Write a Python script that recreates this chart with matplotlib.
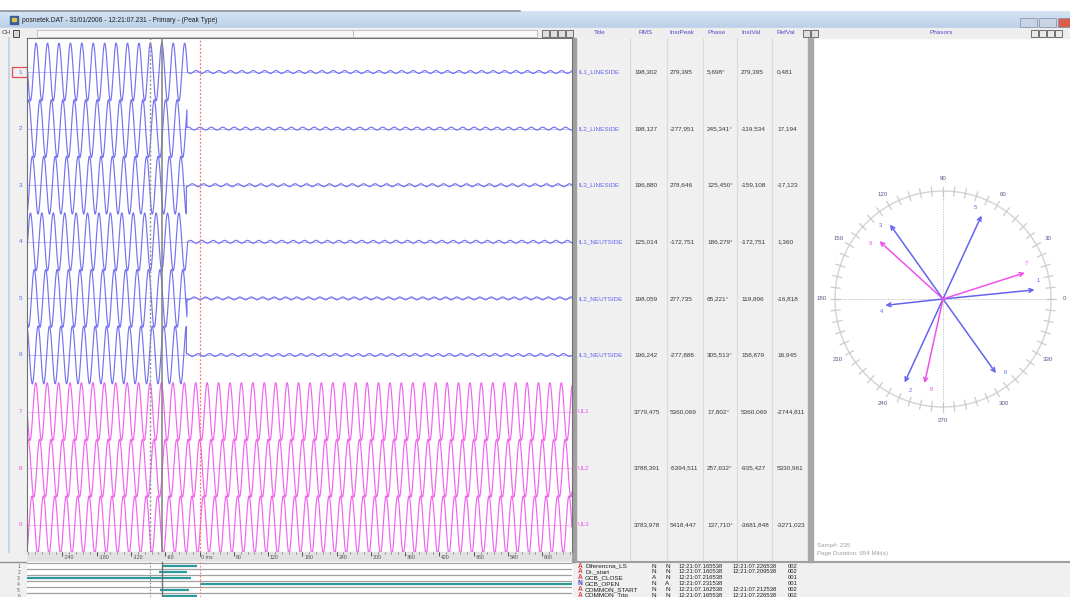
import numpy as np
import matplotlib.pyplot as plt
from matplotlib.patches import Rectangle
from matplotlib.colors import LinearSegmentedColormap

plt.rcParams['font.family'] = ['Liberation Sans', 'DejaVu Sans']

W, H = 1070, 597

# analog channels and the values shown at the cursor
titles = ['IL1_LINESIDE', 'IL2_LINESIDE', 'IL3_LINESIDE', 'IL1_NEUTSIDE', 'IL2_NEUTSIDE',
          'IL3_NEUTSIDE', 'UL1', 'UL2', 'UL3']
rms = [198.302, 198.127, 196.880, 125.014, 198.059, 196.242, 3779.475, 3788.391, 3783.978]
inst_peak = [279.395, -277.951, 278.646, -172.751, 277.735, -277.888, 5360.069, -5394.511, 5418.447]
phase = [5.698, 245.341, 125.450, 186.279, 65.221, 305.513, 17.802, 257.632, 137.710]
inst_val = [279.395, -119.534, -159.108, -172.751, 119.896, 158.879, 5360.069, -935.427, -3681.848]
ref_val = [0.481, 17.194, -17.123, 1.360, -16.818, 16.945, -2744.811, 5330.961, -3271.023]
is_current = [True, True, True, True, True, True, False, False, False]
# breaker interrupts the currents here (ms), voltages keep running
cutoff_ms = [-21, -22, -23, -21, -22, -23, None, None, None]
residual = 0.05

# time base
t_start, t_end = -302, 652
cursor_ms = -66
cursor2_ms = -86
freq = 50.0

# digital channels (start, end in ms; None = beyond page)
dig_names = ['Diferencna_LS', 'Dr._start', 'GCB_CLOSE', 'GCB_OPEN', 'COMMON_START', 'COMMON_Trip']
dig_start = [-66, -71, None, 0, -69, -66]
dig_end = [-5, -22, -15, None, -19, -5]
dig_type = ['A', 'A', 'A', 'N', 'A', 'A']
dig_s1 = ['N', 'N', 'A', 'N', 'N', 'N']
dig_s2 = ['N', 'N', 'N', 'A', 'N', 'N']
dig_t1 = ['12:21:07.165538', '12:21:07.160538', '12:21:07.216538', '12:21:07.231538',
          '12:21:07.162538', '12:21:07.165538']
dig_t2 = ['12:21:07.226538', '12:21:07.209538', '', '', '12:21:07.212538', '12:21:07.226538']
dig_code = ['002', '002', '001', '001', '002', '002']

ruler_ticks = [-240, -180, -120, -60, 0, 60, 120, 180, 240, 300, 360, 420, 480, 540, 600]

BLUE = '#6464f0'
MAG = '#f052ee'
FS = 4.6

fig = plt.figure(figsize=(W / 100, H / 100), dpi=100)
fig.patch.set_facecolor('white')


def px_axes(x0, y0, x1, y1, z=1):
    a = fig.add_axes([x0 / W, 1 - y1 / H, (x1 - x0) / W, (y1 - y0) / H])
    a.set_zorder(z)
    return a


# ---- background / window chrome ----
bg = px_axes(0, 0, W, H, z=0)
bg.set_xlim(0, W)
bg.set_ylim(H, 0)
bg.axis('off')

grad = np.linspace(0, 1, 50)[:, None] * np.ones((1, 200))
bg.imshow(grad, extent=(0, W, 28, 11), cmap=LinearSegmentedColormap.from_list(
    'tb', ['#d6e4f3', '#bad0e9']), aspect='auto', zorder=1)
bg.plot([0, 520], [11, 11], color='#8a8f98', lw=1.2, zorder=2)
bg.add_patch(Rectangle((10, 16), 8, 8, color='#3a5d9a', zorder=2))
bg.add_patch(Rectangle((12, 18), 4, 3, color='#e0c040', zorder=3))
bg.text(22, 20.5, 'posnetek.DAT - 31/01/2006 - 12:21:07.231 - Primary - (Peak Type)',
        fontsize=4.8, va='center', color='#202020', zorder=3)
for bx, bw, bc in [(1020, 17, '#c8d4e4'), (1039, 17, '#c8d4e4'), (1058, 12, '#d8604a')]:
    bg.add_patch(Rectangle((bx, 18), bw, 9, facecolor=bc, edgecolor='#8090a8', lw=0.5, zorder=3))

# toolbar / header row
bg.add_patch(Rectangle((0, 28), W, 10, color='#eeeeee', zorder=1))
bg.text(2, 33, 'CH', fontsize=4.6, va='center', color='#404040', zorder=3)
bg.add_patch(Rectangle((13, 29.5), 6, 7, facecolor='#d8d8d8', edgecolor='#303030', lw=0.6, zorder=3))
bg.add_patch(Rectangle((37, 29.5), 316, 7, facecolor='#f6f6f6', edgecolor='#b0b0b0', lw=0.5, zorder=2))
bg.add_patch(Rectangle((353, 29.5), 184, 7, facecolor='#f8f8f8', edgecolor='#b0b0b0', lw=0.5, zorder=2))
for bx in [542, 550, 558, 566]:
    bg.add_patch(Rectangle((bx, 29.5), 7, 7, facecolor='#e0e0e0', edgecolor='#404040', lw=0.5, zorder=3))
for lab, x in [('Title', 600), ('RMS', 646), ('InstPeak', 682), ('Phase', 717), ('InstVal', 751), ('RefVal', 786)]:
    bg.text(x, 33, lab, fontsize=FS, ha='center', va='center', color='#5050c8', zorder=3)
for bx in [803, 811]:
    bg.add_patch(Rectangle((bx, 29.5), 7, 7, facecolor='#e0e0e0', edgecolor='#404040', lw=0.5, zorder=3))
bg.text(941, 33, 'Phasors', fontsize=FS, ha='center', va='center', color='#5050c8', zorder=3)
for bx in [1031, 1039, 1047, 1055]:
    bg.add_patch(Rectangle((bx, 29.5), 7, 7, facecolor='#e8e8e8', edgecolor='#404040', lw=0.5, zorder=3))

# left channel strip
bg.add_patch(Rectangle((0, 38), 27, 514, color='#f0f0f0', zorder=1))
bg.plot([9, 9], [38, 552], color='#c4d4ee', lw=1.5, zorder=2)
# table panel
bg.add_patch(Rectangle((573, 38), 240, 524, color='#f0f0f0', zorder=1))
for sx in [630, 667, 703, 737, 772]:
    bg.plot([sx, sx], [38, 562], color='#dadada', lw=0.8, zorder=2)
bg.add_patch(Rectangle((572, 38), 4, 524, color='#a0a0a0', zorder=3))
bg.add_patch(Rectangle((808, 38), 5, 524, color='#a8a8a8', zorder=3))
# bottom event list
bg.add_patch(Rectangle((573, 562), W - 573, 35, color='#f0f0f0', zorder=1))
bg.plot([573, W], [562, 562], color='#a0a0a0', lw=1.5, zorder=3)
bg.add_patch(Rectangle((0, 552), 27, 45, color='#f0f0f0', zorder=1))
bg.plot([0, 573], [561.5, 561.5], color='#909090', lw=1.0, zorder=3)

# channel numbers
row_y = [72 + 56.6 * k for k in range(9)]
for k, y in enumerate(row_y):
    col = BLUE if is_current[k] else MAG
    bg.text(22, y, str(k + 1), fontsize=4.6, ha='right', va='center', color=col, zorder=3)
bg.add_patch(Rectangle((12, 67), 15, 10, fill=False, edgecolor='#e05050', lw=0.9, zorder=3))

# table rows
col_x = [634, 670, 707, 741, 777]


def fmt(v, deg=False):
    s = f'{v:.3f}'.replace('.', ',')
    return s + '°' if deg else s


for k, y in enumerate(row_y):
    col = BLUE if is_current[k] else MAG
    bg.text(578, y, titles[k], fontsize=FS, va='center', color=col, zorder=3)
    vals = [fmt(rms[k]), fmt(inst_peak[k]), fmt(phase[k], True), fmt(inst_val[k]), fmt(ref_val[k])]
    for x, s in zip(col_x, vals):
        bg.text(x, y, s, fontsize=FS, va='center', color='#383838', zorder=3)

bg.text(817, 545, 'Samp#: 235', fontsize=4.4, va='center', color='#a0a0a0', zorder=3)
bg.text(817, 553, 'Page Duration: 954 Mili(s)', fontsize=4.4, va='center', color='#a0a0a0', zorder=3)

# event list text
for k in range(len(dig_names)):
    y = 566 + 5.9 * k
    kw = dict(fontsize=4.6, va='center', color='#202020', zorder=3)
    tk = dict(fontsize=4.2, va='center', color='#202020', zorder=3)
    bg.text(578, y, dig_type[k], fontsize=4.8, va='center', fontweight='bold',
            color='#e04040' if dig_type[k] == 'A' else '#4040c0', zorder=3)
    bg.text(585, y, dig_names[k], **kw)
    bg.text(652, y, dig_s1[k], **kw)
    bg.text(665, y, dig_s2[k], **kw)
    bg.text(679, y, dig_t1[k], **tk)
    bg.text(733, y, dig_t2[k], **tk)
    bg.text(788, y, dig_code[k], **tk)

# ---- analog waveforms ----
ax = px_axes(27, 38, 572, 552, z=2)
ax.set_xlim(t_start, t_end)
top = 1 - (72 - 38) / 56.6
ax.set_ylim(top + 514 / 56.6, top)
ax.set_xticks([])
ax.set_yticks([])
for s in ax.spines.values():
    s.set_color('#707070')
    s.set_linewidth(0.8)

t = np.arange(t_start, t_end, 0.1)
w = 2 * np.pi * freq / 1000.0
amp = 0.51
for k in range(9):
    col = BLUE if is_current[k] else MAG
    ax.axhline(k + 1, color='#b4b4f4' if is_current[k] else '#f4b4f0', lw=0.6, zorder=1)
    ph = np.radians(phase[k] - phase[0])
    sig = np.cos(w * (t - cursor_ms) + ph)
    if cutoff_ms[k] is not None:
        sig = np.where(t < cutoff_ms[k], sig, residual * np.cos(w * (t - cursor_ms) + ph))
    ax.plot(t, k + 1 - amp * sig, color=col, lw=0.85, alpha=0.9, zorder=2)

ax.axvline(cursor2_ms, color='#909090', lw=1.0, ls=(0, (1.5, 1.5)), zorder=3)
ax.axvline(cursor_ms, color='#808080', lw=1.1, zorder=3)
ax.axvline(0, color='#ff7070', lw=0.9, ls=(0, (1.5, 1.5)), zorder=3)

# ---- time ruler ----
ru = px_axes(27, 552, 572, 561, z=2)
ru.set_xlim(t_start, t_end)
ru.set_ylim(0, 1)
ru.set_facecolor('#e2e2e2')
ru.set_xticks([])
ru.set_yticks([])
for s in ru.spines.values():
    s.set_visible(False)
minor = np.arange(-300, 652, 12)
ru.vlines(minor, 0.75, 1, color='#606060', lw=0.5)
ru.vlines(ruler_ticks, 0.55, 1, color='#404040', lw=0.6)
for v in ruler_ticks:
    ru.text(v + 3, 0.4, '0 ms' if v == 0 else str(v), fontsize=3.8, va='center', color='#505050')

# ---- digital channels ----
dg = px_axes(27, 562, 572, 597, z=2)
dg.set_xlim(t_start, t_end)
dg.set_ylim(1 + 31.3 / 6.1, 1 - 3.7 / 6.1)
dg.set_xticks([])
dg.set_yticks([])
for s in dg.spines.values():
    s.set_visible(False)
for k in range(len(dig_names)):
    dg.axhline(k + 0.5, color='#a0a0a0', lw=0.9)
    a = t_start if dig_start[k] is None else dig_start[k]
    b = t_end if dig_end[k] is None else dig_end[k]
    dg.hlines(k + 1, a, b, color='#2b9a9a', lw=1.6)
dg.axvline(cursor2_ms, color='#909090', lw=0.8, ls=(0, (1.5, 1.5)))
dg.axvline(cursor_ms, color='#707070', lw=1.0)
dg.axvline(0, color='#ff7070', lw=0.8, ls=(0, (1.5, 1.5)))
for k in range(len(dig_names)):
    bg.text(20, 566 + 6.1 * k, str(k + 1), fontsize=3.6, ha='right', va='center', color='#606060', zorder=3)

# ---- phasor diagram ----
ph_ax = px_axes(815, 171, 1071, 427, z=2)
ph_ax.set_xlim(-128, 128)
ph_ax.set_ylim(-128, 128)
ph_ax.set_aspect('equal')
ph_ax.axis('off')
R = 108
th = np.linspace(0, 2 * np.pi, 361)
ph_ax.plot(R * np.cos(th), R * np.sin(th), color='#d4d4d4', lw=1.0, clip_on=False)
for d in range(0, 360, 6):
    a = np.radians(d)
    ph_ax.plot([(R - 4.5) * np.cos(a), (R + 4.5) * np.cos(a)], [(R - 4.5) * np.sin(a), (R + 4.5) * np.sin(a)],
               color='#cccccc', lw=0.9, clip_on=False)
ph_ax.plot([-R, R], [0, 0], color='#b8b8b8', lw=0.6, ls=(0, (1.5, 1.5)))
ph_ax.plot([0, 0], [-R, R], color='#b8b8b8', lw=0.6, ls=(0, (1.5, 1.5)))
for d in range(0, 360, 30):
    a = np.radians(d)
    ph_ax.text(121 * np.cos(a), 121 * np.sin(a), str(d), fontsize=4.4, ha='center', va='center',
               color='#5a5a8a', clip_on=False)

scale_i = 92 / 198.3
scale_u = 86 / 3784.0
for k in range(9):
    col = BLUE if is_current[k] else MAG
    r = rms[k] * (scale_i if is_current[k] else scale_u)
    a = np.radians(phase[k])
    tip = (r * np.cos(a), r * np.sin(a))
    ph_ax.annotate('', xy=tip, xytext=(0, 0),
                   arrowprops=dict(arrowstyle='->', color=col, lw=1.1, shrinkA=0, shrinkB=0,
                                   mutation_scale=7))
    la = a + np.radians(5)
    ph_ax.text((r + 5) * np.cos(la), (r + 5) * np.sin(la), str(k + 1), fontsize=4.2,
               ha='center', va='center', color=col)

fig.savefig('out.png', dpi=100)
